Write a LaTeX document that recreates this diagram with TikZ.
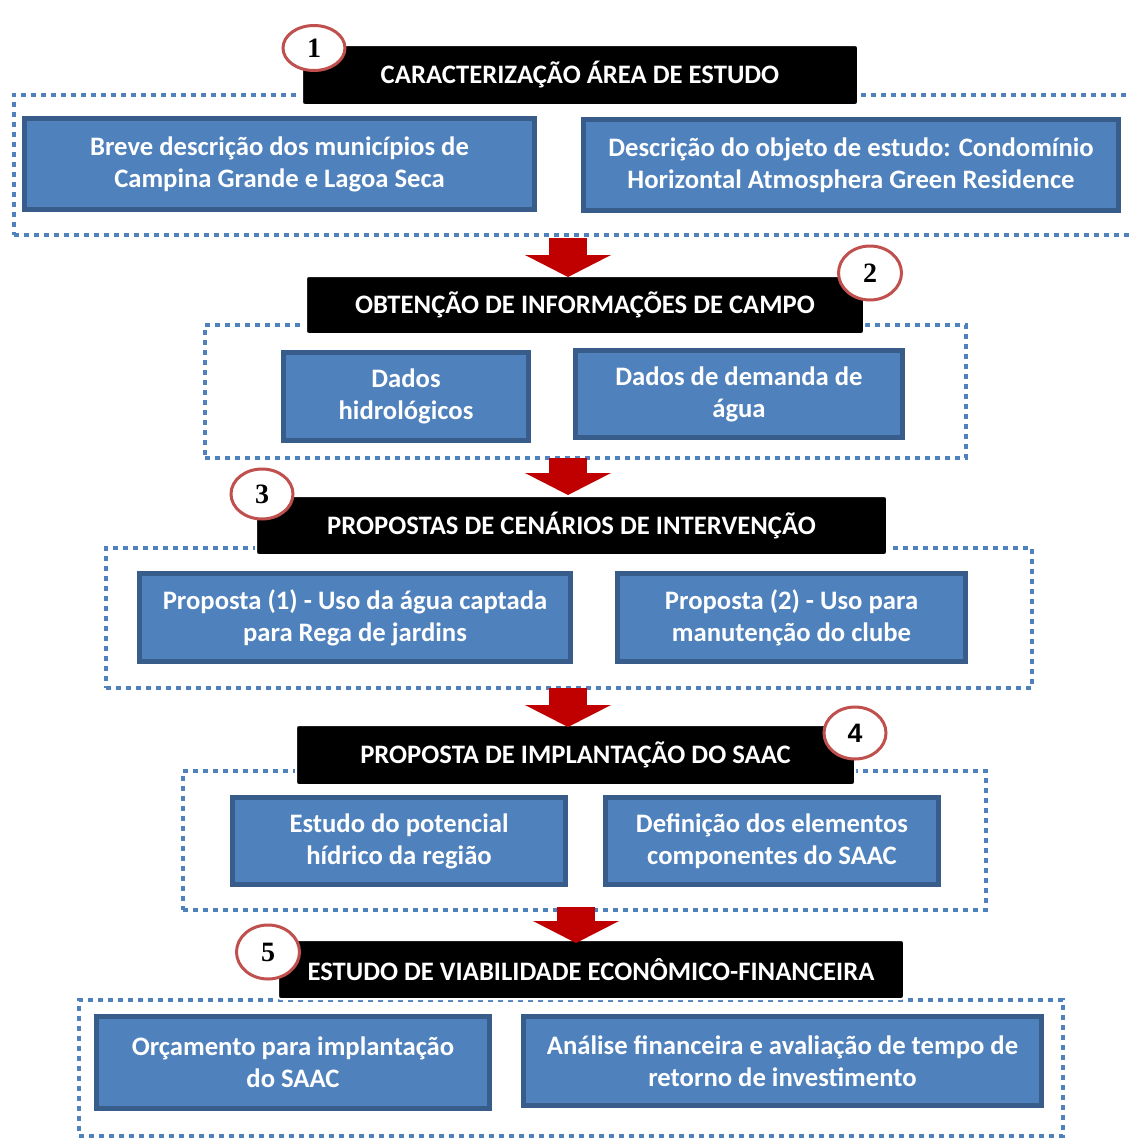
\documentclass[tikz,border=0pt]{standalone}
\usepackage{fontspec}
\setmainfont{Carlito}
\newfontfamily\numfont{Liberation Serif}
\newfontfamily\numsans{Liberation Sans}
\usepackage{xcolor}
\usetikzlibrary{shapes,arrows.meta,positioning}

\definecolor{boxblue}{HTML}{4F81BD}
\definecolor{boxline}{HTML}{385D8A}
\definecolor{arrowred}{HTML}{C00000}
\definecolor{ringred}{HTML}{C0504D}

\begin{document}
\begin{tikzpicture}[x=0.75pt, y=-0.75pt,
    sz/.style 2 args={minimum width=#1*0.75pt, minimum height=#2*0.75pt},
    box/.style={rectangle, draw=boxline, fill=boxblue, line width=3.75pt, inner sep=0pt, align=center, text=white, font=\bfseries\fontsize{20}{24}\selectfont},
    title/.style={rectangle, draw=white, fill=black, line width=1.5pt, rounded corners=2pt, inner sep=0pt, text=white, font=\bfseries\fontsize{20}{24}\selectfont},
    group/.style={rectangle, draw=boxblue, line width=3pt, dash pattern=on 3.4pt off 4.1pt, inner sep=0pt},
    num/.style={ellipse, draw=ringred, fill=white, line width=2.25pt, inner sep=0pt, font=\numfont\bfseries\fontsize{21}{24}\selectfont},
    bigarrow/.style={arrowred, line width=28.5pt, -{Triangle[width=64.5pt, length=16.5pt, line width=0pt]}}]

    \useasboundingbox (0,0) rectangle (1129,1139);

    % 1 - area de estudo
    \node[group, sz={1126}{140}] (g1) at (577,164.5) {};
    \node[title, sz={556}{60}] (t1) at (580,75) {CARACTERIZAÇÃO ÁREA DE ESTUDO};
    \node[num, sz={62}{45}] (n1) at (314,48) {1};
    \node[box, sz={510}{91}] (b11) at (279.5,164) {Breve descrição dos municípios de\\Campina Grande e Lagoa Seca};
    \node[box, sz={535}{91}] (b12) at (851,165) {Descrição do objeto de estudo: Condomínio\\Horizontal Atmosphera Green Residence};

    % 2 - campo
    \node[group, sz={761}{133}] (g2) at (585.5,391.5) {};
    \node[title, sz={558}{58}] (t2) at (585,305) {OBTENÇÃO DE INFORMAÇÕES DE CAMPO};
    \node[num, sz={63}{54}] (n2) at (870,273) {2};
    \node[box, sz={245}{88}] (b21) at (406,396.5) {Dados\\hidrológicos};
    \node[box, sz={327}{87}] (b22) at (739,394) {Dados de demanda de\\água};

    % 3 - cenarios
    \node[group, sz={926}{140}] (g3) at (569,618) {};
    \node[title, sz={631}{59}] (t3) at (571.5,525.5) {PROPOSTAS DE CENÁRIOS DE INTERVENÇÃO};
    \node[num, sz={62}{50}] (n3) at (262,494) {3};
    \node[box, sz={431}{88}] (b31) at (355,617.5) {Proposta (1) - Uso da água captada\\para Rega de jardins};
    \node[box, sz={348}{88}] (b32) at (791.5,617.5) {Proposta (2) - Uso para\\manutenção do clube};

    % 4 - SAAC
    \node[group, sz={803}{139}] (g4) at (584.5,840.5) {};
    \node[title, sz={559}{60}] (t4) at (575.5,755) {PROPOSTA DE IMPLANTAÇÃO DO SAAC};
    \node[num, sz={62}{52}, font=\numsans\bfseries\fontsize{20}{24}\selectfont] (n4) at (855,733) {4};
    \node[box, sz={333}{87}] (b41) at (399,841) {Estudo do potencial\\hídrico da região};
    \node[box, sz={333}{87}] (b42) at (772,841) {Definição dos elementos\\componentes do SAAC};

    % 5 - viabilidade
    \node[group, sz={984}{136}] (g5) at (571,1068) {};
    \node[title, sz={626}{59}] (t5) at (591,969.5) {ESTUDO DE VIABILIDADE ECONÔMICO-FINANCEIRA};
    \node[num, sz={63}{54}] (n5) at (268,952) {5};
    \node[box, sz={393}{92}] (b51) at (293,1062.5) {Orçamento para implantação\\do SAAC};
    \node[box, sz={518}{89}] (b52) at (782.5,1061) {Análise financeira e avaliação de tempo de\\retorno de investimento};

    % setas
    \coordinate (a1) at (568,238);  \coordinate (a1e) at (568,277);
    \coordinate (a2) at (568,458);  \coordinate (a2e) at (568,495);
    \coordinate (a3) at (568,688);  \coordinate (a3e) at (568,727);
    \coordinate (a4) at (576,907);  \coordinate (a4e) at (576,943);
    \draw[bigarrow] (a1) -- (a1e);
    \draw[bigarrow] (a2) -- (a2e);
    \draw[bigarrow] (a3) -- (a3e);
    \draw[bigarrow] (a4) -- (a4e);
\end{tikzpicture}
\end{document}
